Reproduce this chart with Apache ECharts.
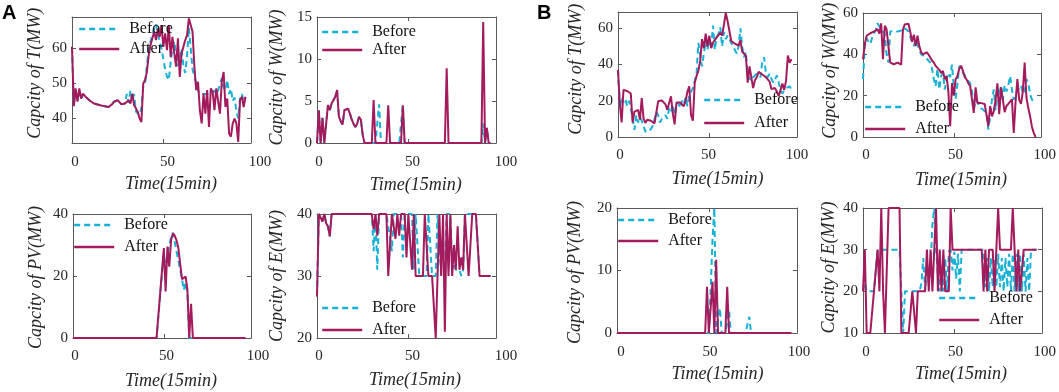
<!DOCTYPE html>
<html>
<head>
<meta charset="utf-8">
<script src="https://cdn.jsdelivr.net/npm/echarts@6/dist/echarts.min.js"></script>
<style>
html, body { margin: 0; padding: 0; background: #fff; }
#chart { width: 1059px; height: 392px; }
</style>
</head>
<body>
<div id="chart"></div>
<script>
// values, one per 15 min step (0..95)
var aT_before = [
	60.5, 44, 48, 45.5, 47.5, 46, 46.5, 46.5, 45.9, 45.4,
	45, 44.7, 44.3, 44.1, 44, 43.8, 43.7, 43.5, 43.5, 43.3,
	43.3, 43.6, 44.1, 44.8, 44.7, 45.2, 44.8, 44.1, 44.1, 44.3,
	47, 44.5, 48, 45, 47, 42, 42, 41, 43, 49,
	50, 55, 60, 62, 64, 66, 67, 64, 62, 60,
	57, 54, 52, 51, 56, 60, 62, 58, 55, 57,
	60, 55, 53, 58, 66, 60, 54, 52, 50, 48,
	47, 47, 47, 46.5, 47, 46.5, 47, 47.5, 48, 47,
	48, 48, 51.5, 49, 48, 51, 47, 48.5, 45, 46,
	42, 40, 46, 47, 45, 46
];
var aT_after = [
	60.5, 43.5, 48.6, 44.8, 48.6, 45.7, 47.1, 46.9, 45.9, 45.4,
	45, 44.7, 44.3, 44.1, 44, 43.8, 43.7, 43.5, 43.5, 43.3,
	43.3, 43.6, 44.1, 44.8, 44.7, 45.2, 44.8, 44.1, 44.1, 44.3,
	44.3, 45.2, 44.3, 47.1, 43.8, 42.9, 41.9, 40, 39, 50,
	51, 53.3, 58.1, 61, 62.9, 64.8, 62.4, 65.7, 63.3, 66.7,
	60.5, 64.3, 59.5, 66.7, 57.6, 63.3, 58.6, 54.8, 62.9, 51.9,
	58.6, 60.5, 62.4, 63.8, 68.6, 68.1, 64.8, 54.8, 48.1, 50.5,
	42.4, 38.6, 47.1, 41.4, 48.1, 37.6, 48.6, 47.6, 42.4, 48.6,
	48.6, 41.4, 50.5, 53.3, 43.3, 45.7, 35.7, 34.8, 38.6, 40,
	38.6, 33.3, 45.2, 46.2, 43.3, 46.2
];
var aW_before = [
	0, 3.9, 0, 3, 0, 0, 4.5, 3.9, 4.7, 4.9,
	5.5, 6.3, 3.1, 2.6, 2.2, 3.9, 3.9, 4.1, 3.5, 2.8,
	2.3, 1.9, 2.3, 3.1, 2.8, 1, 0, 0, 0, 0,
	0, 0, 0, 0, 4.6, 0, 0, 0, 0, 0,
	0, 0, 0, 0, 0, 0, 0, 4.5, 0, 0,
	0, 0, 0, 0, 0, 0, 0, 0, 0, 0,
	0, 0, 0, 0, 0, 0, 0, 0, 0, 0,
	0, 0, 0, 0, 0, 0, 0, 0, 0, 0,
	0, 0, 0, 0, 0, 0, 0, 0, 0, 0,
	0, 2.3, 0, 1.8, 0, 0
];
var aW_after = [
	0, 3.9, 0, 3, 0, 0, 4.5, 3.9, 4.7, 4.9,
	5.5, 6.3, 3.1, 2.6, 2.2, 3.9, 3.9, 4.1, 3.5, 2.8,
	2.3, 1.9, 2.3, 3.1, 2.8, 1, 0, 0, 0, 0,
	0, 5.1, 0, 0, 0, 0, 0, 0, 0, 4.5,
	0, 0, 0, 0, 0, 0, 0, 4.5, 0, 0,
	0, 0, 0, 0, 0, 0, 0, 0, 0, 0,
	0, 0, 0, 0, 0, 0, 0, 0, 0, 0,
	0, 8.9, 0, 0, 0, 0, 0, 0, 0, 0,
	0, 0, 0, 0, 0, 0, 0, 0, 0, 0,
	0, 14.4, 0, 1.8, 0, 0
];
var aPV_before = [
	0, 0, 0, 0, 0, 0, 0, 0, 0, 0,
	0, 0, 0, 0, 0, 0, 0, 0, 0, 0,
	0, 0, 0, 0, 0, 0, 0, 0, 0, 0,
	0, 0, 0, 0, 0, 0, 0, 0, 0, 0,
	0, 0, 0, 0, 0, 0, 0, 0, 14, 14,
	27, 22, 27, 30, 32.5, 34, 31, 28, 25, 22,
	19, 15.5, 18, 14, 0, 0, 0, 0, 0, 0,
	0, 0, 0, 0, 0, 0, 0, 0, 0, 0,
	0, 0, 0, 0, 0, 0, 0, 0, 0, 0,
	0, 0, 0, 0, 0, 0
];
var aPV_after = [
	0, 0, 0, 0, 0, 0, 0, 0, 0, 0,
	0, 0, 0, 0, 0, 0, 0, 0, 0, 0,
	0, 0, 0, 0, 0, 0, 0, 0, 0, 0,
	0, 0, 0, 0, 0, 0, 0, 0, 0, 0,
	0, 0, 0, 0, 0, 0, 0, 0, 14.5, 14,
	29, 15, 29.5, 23, 31.6, 33.8, 33, 31.5, 29, 24,
	19, 19.5, 19.8, 15.5, 0, 11, 0, 0, 0, 0,
	0, 0, 0, 0, 0, 0, 0, 0, 0, 0,
	0, 0, 0, 0, 0, 0, 0, 0, 0, 0,
	0, 0, 0, 0, 0, 0
];
var aE_before = [
	26.7, 40, 40, 38.8, 40, 38.5, 38, 36.4, 40, 40,
	40, 40, 40, 40, 40, 40, 40, 40, 40, 40,
	40, 40, 40, 40, 40, 40, 40, 40, 40, 40,
	40, 34, 40, 31, 40, 40, 40, 40, 40, 40,
	36, 34, 40, 40, 40, 40, 40, 33, 40, 40,
	40, 40, 40, 31, 40, 40, 30, 30, 30, 30,
	30, 40, 40, 30, 30, 30, 40, 40, 30, 30,
	30, 40, 40, 40, 31, 32, 31, 31, 31, 30,
	31, 40, 40, 40, 40, 40, 40, 40, 40, 30,
	30, 30, 30, 30, 30, 30
];
var aE_after = [
	26.7, 40, 40, 38.8, 40, 38.5, 38, 36.4, 40, 40,
	40, 40, 40, 40, 40, 40, 40, 40, 40, 40,
	40, 40, 40, 40, 40, 40, 40, 40, 40, 40,
	40, 37.5, 40, 36.5, 40, 40, 40, 40, 40, 30,
	30, 40, 40, 36, 40, 36.5, 40, 40, 40, 33,
	40, 40, 31, 40, 30, 30, 30, 30, 30, 40,
	40, 30, 30, 30, 30, 20, 30, 40, 30, 40,
	21, 40, 30, 40, 30, 35, 31, 38, 31, 33,
	31, 40, 40, 30, 30, 40, 40, 40, 40, 30,
	30, 30, 30, 30, 30, 30
];
var bT_before = [
	37, 16, 22, 19, 21, 17, 20, 16, 10, 4,
	12, 8, 11, 9, 6, 3, 3, 3, 3, 6,
	10, 14, 12, 8, 10, 11, 12, 10, 16, 14,
	18, 12, 17, 19, 16, 20, 18, 22, 17, 23,
	25, 27, 28, 35, 52, 45, 39, 46, 53, 48,
	54, 49, 61.5, 48, 55, 57, 60.5, 50, 58, 54,
	56, 57, 52, 50, 48, 46, 50, 60, 50, 44,
	47, 34, 33, 31, 33, 32, 35, 36, 33, 42,
	44, 35, 33, 35, 32, 30, 31, 34, 30, 26,
	24, 25, 27, 26, 28, 26
];
var bT_after = [
	37, 18, 8, 26, 25.6, 25.4, 25, 24, 8, 14,
	14.5, 15, 9.6, 21.5, 10, 7.8, 9.5, 9.3, 9, 8,
	7.5, 7, 19.8, 20, 20.2, 20.5, 18, 15, 14, 22.5,
	13, 7, 19, 19, 19, 18, 17, 20, 25, 28,
	12, 9, 30, 33.7, 36.5, 42, 54, 49, 57, 50,
	56, 49, 52, 52, 55, 54.5, 57.5, 56, 62, 68.5,
	64, 63.5, 53, 52, 51.5, 50.5, 50.4, 53.5, 47, 46,
	45, 30, 39, 38.5, 27, 31.5, 33, 36, 37, 34.5,
	35.5, 33, 34, 30.5, 26.5, 25.5, 27, 25, 22.5, 26,
	29.5, 26, 31, 45, 41, 43
];
var bW_before = [
	28, 44, 48, 46, 45, 48, 50, 51.5, 55, 54.5,
	52, 51, 50, 40, 36, 51, 51.4, 51.4, 51.4, 51,
	50.5, 51.5, 53, 53.5, 52, 51, 51.4, 46, 44, 47,
	45, 42, 40, 39.5, 39, 38, 37, 36, 33, 28,
	24.6, 33, 23, 29.5, 31, 23, 28, 31, 29, 35,
	24, 18.5, 26, 34.4, 33, 31, 30, 28, 27, 26,
	22, 13.3, 18, 17, 14.5, 15, 13.3, 12.5, 11.7, 3.6,
	10, 18, 23, 13, 24, 20, 25, 18, 25, 22,
	25, 29.5, 23, 18, 21, 22, 24, 25, 21, 22,
	28, 26, 21, 18, 17.5, 17.3
];
var bW_after = [
	37.6, 45, 49, 49.8, 50.2, 50.6, 51, 51.4, 52.2, 50,
	55, 37.6, 53.8, 52, 44, 36, 35.2, 35.2, 36, 36,
	35.2, 35, 52, 54.5, 55.1, 54.8, 51, 46, 49.5, 44,
	49, 44, 41, 40, 39.5, 41, 40, 38.5, 37, 36,
	34.4, 34.5, 32.5, 31, 32, 28, 29.5, 22, 5.2, 26,
	20, 28, 29.5, 33, 34.5, 32, 29, 27.9, 26, 24.6,
	18.2, 11.7, 24, 16.5, 16.5, 16.4, 16.3, 16, 15.8, 5.2,
	15, 10, 12.5, 18, 26, 11, 24, 18, 12, 15,
	16, 16.5, 18.2, 2, 17, 28, 18, 16, 22, 36,
	19, 14, 10, 5, 2, 0
];
var bPV_before = [
	0, 0, 0, 0, 0, 0, 0, 0, 0, 0,
	0, 0, 0, 0, 0, 0, 0, 0, 0, 0,
	0, 0, 0, 0, 0, 0, 0, 0, 0, 0,
	0, 0, 0, 0, 0, 0, 0, 0, 0, 0,
	0, 0, 0, 0, 0, 0, 0, 0, 0, 0,
	0, 7, 15, 20, 0, 0, 4, 0, 0, 0,
	0, 3.6, 0, 0, 0, 0, 0, 0, 0, 0,
	0, 0, 2.6, 0, 0, 0, 0, 0, 0, 0,
	0, 0, 0, 0, 0, 0, 0, 0, 0, 0,
	0, 0, 0, 0, 0, 0
];
var bPV_after = [
	0, 0, 0, 0, 0, 0, 0, 0, 0, 0,
	0, 0, 0, 0, 0, 0, 0, 0, 0, 0,
	0, 0, 0, 0, 0, 0, 0, 0, 0, 0,
	0, 0, 0, 0, 0, 0, 0, 0, 0, 0,
	0, 0, 0, 0, 0, 0, 0, 0, 0, 7.4,
	0, 4, 8.2, 0, 11.7, 0, 0, 0, 0, 0,
	7.4, 0, 0, 0, 0, 0, 0, 0, 0, 0,
	0, 0, 0, 0, 0, 0, 0, 0, 0, 0,
	0, 0, 0, 0, 0, 0, 0, 0, 0, 0,
	0, 0, 0, 0, 0, 0
];
var bE_before = [
	20, 22, 20, 20, 20, 20, 20, 20, 30, 30,
	30, 30, 30, 30, 30, 30, 30, 30, 30, 30,
	30, 20, 10, 20, 20, 20, 20, 20, 20, 20,
	20, 20, 22, 28, 20, 27, 22, 26, 36, 40,
	30, 24, 20, 26, 20, 28, 20, 29.5, 30, 25,
	29.5, 23, 29, 20, 30, 30, 30, 30, 30, 30,
	30, 30, 30, 30, 30, 30, 30, 21, 28, 20,
	28, 21, 28, 21, 29, 21, 28, 20, 28, 21,
	29, 20, 29, 20, 29, 20, 29, 20, 29, 20,
	28, 20, 30, 30, 30, 30
];
var bE_after = [
	20, 30, 10, 10, 10, 10, 20, 25, 30, 20,
	40, 20, 10, 25, 40, 40, 40, 40, 40, 40,
	40, 10, 10, 10, 10, 10, 10, 20, 20, 10,
	20, 20, 20, 20, 20, 30, 20, 30, 20, 30,
	40, 20, 30, 20, 30, 20, 20, 20, 40, 30,
	30, 30, 30, 30, 30, 30, 30, 30, 30, 30,
	30, 30, 30, 30, 30, 30, 20, 30, 20, 30,
	30, 30, 20, 20, 40, 30, 30, 30, 30, 30,
	30, 30, 40, 30, 20, 30, 20, 20, 30, 30,
	30, 30, 30, 30, 30, 30
];

var xTickLabels = [0, 50, 100];
var seriesNames = ["Before", "After"];

var FONT = "'Liberation Serif', 'Times New Roman', serif",
	C_BEFORE = "#17b1d6",
	C_AFTER = "#a31b5c",
	C_AXIS = "#595959",
	C_TEXT = "#262626",
	TITLE_SIZE = 18,
	XMAX = 98;

// layout of each panel: box = [left, top, width, height] of the frame,
// xlab = [x of "0", width 0..100, label centre y, title centre y, title dx],
// ytit = [title centre x, shift up], leg = [left, top, gap]
var panels = [
	{ before: aT_before, after: aT_after, ytitle: "Capcity of T(MW)", ymin: 33, ymax: 69, yticks: [40, 50, 60],
	  box: [72, 17, 179, 126], xlab: [75, 185, 162, 184, 3.5], ytit: [35, 6.7], leg: [78, 21, 4] },
	{ before: aW_before, after: aW_after, ytitle: "Capcity of W(MW)", ymin: 0, ymax: 15, yticks: [0, 5, 10, 15],
	  box: [317, 17, 179, 126], xlab: [319, 187, 162, 185, 3.3], ytit: [277, 2.5], leg: [321, 24, 2] },
	{ before: aPV_before, after: aPV_after, ytitle: "Capcity of PV(MW)", ymin: 0, ymax: 40, yticks: [0, 20, 40],
	  box: [73, 214, 178, 124], xlab: [75, 183, 356.5, 381, 4.5], ytit: [36.7, -1.5], leg: [73, 217, 6] },
	{ before: aE_before, after: aE_after, ytitle: "Capcity of E(MW)", ymin: 20, ymax: 40, yticks: [20, 30, 40],
	  box: [317, 214, 179, 124], xlab: [319, 187, 356.5, 380, 2.5], ytit: [277, 0], leg: [321, 300, 6] },
	{ before: bT_before, after: bT_after, ytitle: "Capcity of T(MW)", ymin: 0, ymax: 69, yticks: [0, 20, 40, 60],
	  box: [618, 12, 179, 125], xlab: [620, 177, 155, 179, 9], ytit: [576.7, 5.3], leg: [703, 92, 7] },
	{ before: bW_before, after: bW_after, ytitle: "Capcity of W(MW)", ymin: 0, ymax: 60, yticks: [0, 20, 40, 60],
	  box: [863, 13, 178, 124], xlab: [866, 182, 155, 180, 5.7], ytit: [830, 4.2], leg: [864, 99, 6] },
	{ before: bPV_before, after: bPV_after, ytitle: "Capcity of PV(MW)", ymin: 0, ymax: 20, yticks: [0, 10, 20],
	  box: [617, 208, 180, 125], xlab: [621, 178, 352, 374, 7.5], ytit: [575, -2], leg: [617, 212, 5] },
	{ before: bE_before, after: bE_after, ytitle: "Capcity of E(MW)", ymin: 10, ymax: 40, yticks: [10, 20, 30, 40],
	  box: [863, 208, 179, 125], xlab: [866, 182, 352, 374, 5.7], ytit: [829.3, 3], leg: [938, 290, 6] }
];

var chart = echarts.init(document.getElementById("chart"), null, { renderer: "canvas" });

var opt = {
	animation: false,
	backgroundColor: "#fff",
	title: [
		{ text: "A", left: 2, top: 3, padding: 0, textStyle: { fontFamily: "'Liberation Sans', Arial, sans-serif", fontWeight: "bold", fontSize: 20, color: "#000" } },
		{ text: "B", left: 537, top: 3, padding: 0, textStyle: { fontFamily: "'Liberation Sans', Arial, sans-serif", fontWeight: "bold", fontSize: 20, color: "#000" } }
	],
	grid: [],
	xAxis: [],
	yAxis: [],
	legend: [],
	series: []
};

function toPoints(arr) {
	return arr.map(function(v, i) { return [i, v]; });
}

function shiftPad(d) {
	// shift centred text along its reading direction
	return d >= 0 ? [0, 0, 0, 2 * d] : [0, -2 * d, 0, 0];
}

panels.forEach(function(p) {
	var g = opt.grid.length,
		b = p.box,
		xl = p.xlab,
		bottom = b[1] + b[3],
		xi = opt.xAxis.length,
		yi = opt.yAxis.length,
		frame = { show: true, onZero: false, lineStyle: { color: C_AXIS, width: 1 } },
		tick = { show: true, inside: true, length: 4, lineStyle: { color: C_AXIS } };

	opt.grid.push({ left: b[0], top: b[1], width: b[2], height: b[3] });
	opt.grid.push({ left: xl[0], top: b[1], width: xl[1], height: b[3] });

	// frame: bottom / top
	opt.xAxis.push({
		type: "value", gridIndex: g, min: 0, max: XMAX, interval: 50, position: "bottom",
		axisLine: frame, axisTick: tick, axisLabel: { show: false }, splitLine: { show: false }
	});
	opt.xAxis.push({
		type: "value", gridIndex: g, min: 0, max: XMAX, interval: 50, position: "top",
		axisLine: frame, axisTick: tick, axisLabel: { show: false }, splitLine: { show: false }
	});
	// tick labels and title of the time axis
	opt.xAxis.push({
		type: "value", gridIndex: g + 1, min: 0, max: 100, interval: 50, position: "bottom",
		axisLine: { show: false }, axisTick: { show: false }, splitLine: { show: false },
		axisLabel: {
			margin: xl[2] - bottom - 7.5, fontFamily: FONT, fontSize: 15, color: C_TEXT,
			customValues: xTickLabels
		},
		name: "Time(15min)", nameLocation: "middle", nameGap: xl[3] - bottom - TITLE_SIZE / 2,
		nameTextStyle: { fontFamily: FONT, fontStyle: "italic", fontSize: TITLE_SIZE, color: C_TEXT, padding: shiftPad(xl[4]) }
	});

	opt.yAxis.push({
		type: "value", gridIndex: g, min: p.ymin, max: p.ymax, position: "left",
		axisLine: frame,
		axisTick: { show: true, inside: true, length: 4, lineStyle: { color: C_AXIS }, customValues: p.yticks },
		axisLabel: { margin: 5, fontFamily: FONT, fontSize: 15, color: C_TEXT, customValues: p.yticks },
		splitLine: { show: false },
		name: p.ytitle, nameLocation: "middle", nameGap: b[0] - p.ytit[0] - TITLE_SIZE / 2,
		nameTextStyle: { fontFamily: FONT, fontStyle: "italic", fontSize: TITLE_SIZE, color: C_TEXT, padding: shiftPad(p.ytit[1]) }
	});
	opt.yAxis.push({
		type: "value", gridIndex: g, min: p.ymin, max: p.ymax, position: "right",
		axisLine: frame,
		axisTick: { show: true, inside: true, length: 4, lineStyle: { color: C_AXIS }, customValues: p.yticks },
		axisLabel: { show: false }, splitLine: { show: false }
	});
	opt.yAxis.push({ type: "value", gridIndex: g + 1, min: 0, max: 1, show: false });

	opt.series.push({
		type: "line", name: seriesNames[0], xAxisIndex: xi, yAxisIndex: yi,
		data: toPoints(p.before), symbol: "none", silent: true, z: 2,
		lineStyle: { color: C_BEFORE, width: 2, type: [6, 4] }, itemStyle: { color: C_BEFORE }
	});
	opt.series.push({
		type: "line", name: seriesNames[1], xAxisIndex: xi, yAxisIndex: yi,
		data: toPoints(p.after), symbol: "none", silent: true, z: 3,
		lineStyle: { color: C_AFTER, width: 2 }, itemStyle: { color: C_AFTER }
	});

	opt.legend.push({
		left: p.leg[0], top: p.leg[1], orient: "vertical", itemGap: p.leg[2],
		itemWidth: 40, itemHeight: 16, padding: 0, selectedMode: false,
		data: seriesNames,
		itemStyle: { opacity: 0 },
		lineStyle: { width: 2.4 },
		textStyle: { fontFamily: FONT, fontSize: 16, color: "#111", padding: [0, 0, 0, 5] }
	});
});

chart.setOption(opt);
</script>
</body>
</html>
